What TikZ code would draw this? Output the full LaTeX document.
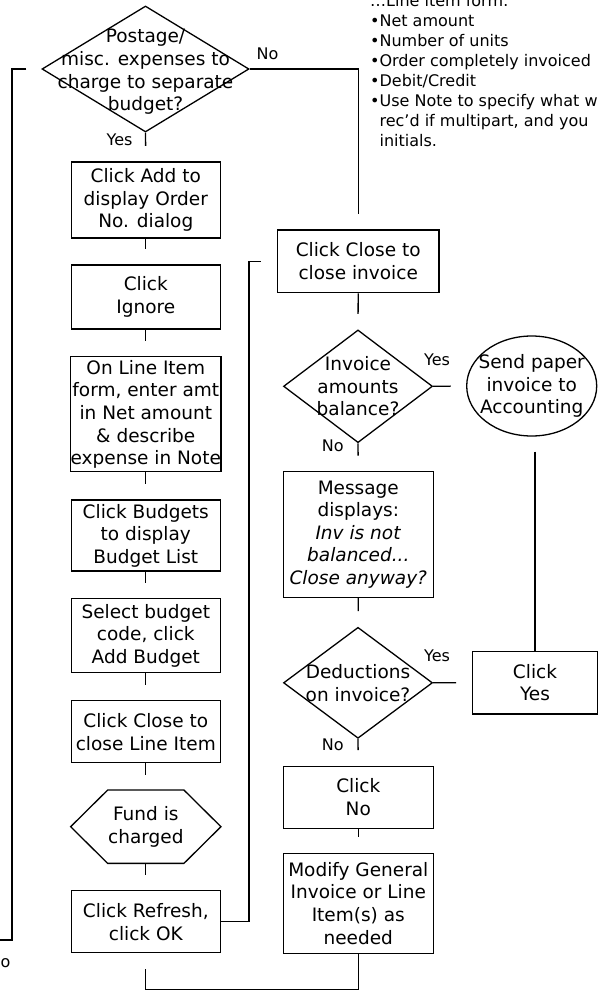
\documentclass[tikz,border=0pt]{standalone}
\usepackage{fontspec}
\setmainfont{DejaVu Sans}
\usetikzlibrary{shapes.geometric}

\begin{document}
\begin{tikzpicture}[x=1pt,y=-1pt,line width=1.3pt,
  every node/.style={font=\fontsize{18.5}{22.6}\selectfont},
  box/.style={draw,rectangle,inner sep=0pt,minimum width=149pt,align=center},
  decision/.style={draw,diamond,inner sep=0pt,minimum width=149pt},
  lbl/.style={font=\fontsize{16}{20}\selectfont,inner sep=0pt},
  stub/.style={shorten >=15.5pt}]
\useasboundingbox (0,0) rectangle (601,990);

% left column
\node[decision,minimum width=207pt,minimum height=126pt,
  label={[align=center,yshift=-3pt]center:Postage/\\misc. expenses to\\charge to separate\\budget?}] (budq) at (145.5,69) {};
\node[box,minimum height=76pt] (addbtn) at (145.8,200) {Click Add to\\display Order\\No. dialog};
\node[box,minimum height=64pt] (ignore) at (145.8,297) {Click\\Ignore};
\node[box,minimum height=115pt] (lineitem) at (145.8,414.3) {On Line Item\\form, enter amt\\in Net amount\\\& describe\\expense in Note};
\node[box,minimum height=71pt] (budgets) at (145.8,535.5) {Click Budgets\\to display\\Budget List};
\node[box,minimum height=74pt] (selbud) at (145.8,635.8) {Select budget\\code, click\\Add Budget};
\node[box,minimum height=62pt] (closeline) at (145.8,731.8) {Click Close to\\close Line Item};
\node[inner sep=0pt,minimum width=149pt,minimum height=72pt,align=center] (fund) at (145.8,826.7) {Fund is\\charged};
\draw (fund.west) -- ([xshift=37pt]fund.north west) -- ([xshift=-37pt]fund.north east)
  -- (fund.east) -- ([xshift=-37pt]fund.south east) -- ([xshift=37pt]fund.south west) -- cycle;
\node[box,minimum height=62pt] (refresh) at (145.8,921.8) {Click Refresh,\\click OK};

% right column
\node[box,minimum width=161.7pt,minimum height=62.7pt] (closeinv) at (358.2,261.3) {Click Close to\\close invoice};
\node[decision,minimum height=112.7pt,
  label={[align=center]center:Invoice\\amounts\\balance?}] (balq) at (358,386.3) {};
\node[draw,ellipse,inner sep=0pt,minimum width=130pt,minimum height=100pt,
  label={[align=center]center:Send paper\\invoice to\\Accounting}] (sendpaper) at (531.7,386) {};
\node[box,minimum width=150pt,minimum height=125.6pt] (message) at (358.3,534.5)
  {Message\\displays:\\\textit{Inv is not}\\\textit{balanced...}\\\textit{Close anyway?}};
\node[decision,minimum height=111pt,
  label={[align=center]center:Deductions\\on invoice?}] (dedq) at (358,682.8) {};
\node[box,minimum width=125.4pt,minimum height=62.7pt] (clickyes) at (535,682.7) {Click\\Yes};
\node[box,minimum width=150pt,minimum height=62pt] (clickno) at (358.3,797.3) {Click\\No};
\node[box,minimum width=150pt,minimum height=100pt] (modify) at (358.3,903.3) {Modify General\\Invoice or Line\\Item(s) as\\needed};

% notes
\node[lbl,align=left,anchor=north west] (notes) at (369.5,-6)
  {\ldots Line item form:\\•Net amount\\•Number of units\\•Order completely invoiced\\•Debit/Credit\\•Use Note to specify what w\\\hphantom{•}rec’d if multipart, and you\\\hphantom{•}initials.};

% labels
\node[lbl] (budno) at (267.5,53.3) {No};
\node[lbl] (budyes) at (119.5,139.3) {Yes};
\node[lbl] (balyes) at (437,359.3) {Yes};
\node[lbl] (balno) at (332.8,446) {No};
\node[lbl] (dedyes) at (437,655.3) {Yes};
\node[lbl] (dedno) at (332.8,744.3) {No};
\node[lbl] (cutno) at (5.5,963) {o};

% connectors
\draw[stub] (budq.south) -- (addbtn.north);
\draw[stub] (addbtn.south) -- (ignore.north);
\draw[stub] (ignore.south) -- (lineitem.north);
\draw[stub] (lineitem.south) -- (budgets.north);
\draw[stub] (budgets.south) -- (selbud.north);
\draw[stub] (selbud.south) -- (closeline.north);
\draw[stub] (closeline.south) -- (fund.north);
\draw[stub] (fund.south) -- (refresh.north);
\draw[stub] (budq.east) -| (closeinv.north);
\draw[stub] (refresh.east) -- ++(28,0) |- (closeinv.west);
\draw[stub] (closeinv.south) -- (balq.north);
\draw[stub] (balq.south) -- (message.north);
\draw[stub] (balq.east) -- (sendpaper.west);
\draw[shorten <=15pt] (sendpaper.south -| clickyes.north) -- (clickyes.north);
\draw[stub] (message.south) -- (dedq.north);
\draw[stub] (dedq.east) -- (clickyes.west);
\draw[stub] (dedq.south) -- (clickno.north);
\draw[stub] (clickno.south) -- (modify.north);
\draw[stub] (modify.south) -- ++(0,35.5) -| (refresh.south);
\coordinate (leftturn) at (12,940);
\coordinate (offleft) at (-2,940);
\draw[shorten <=15pt] (budq.west) -| (leftturn) -- (offleft);
\end{tikzpicture}
\end{document}
